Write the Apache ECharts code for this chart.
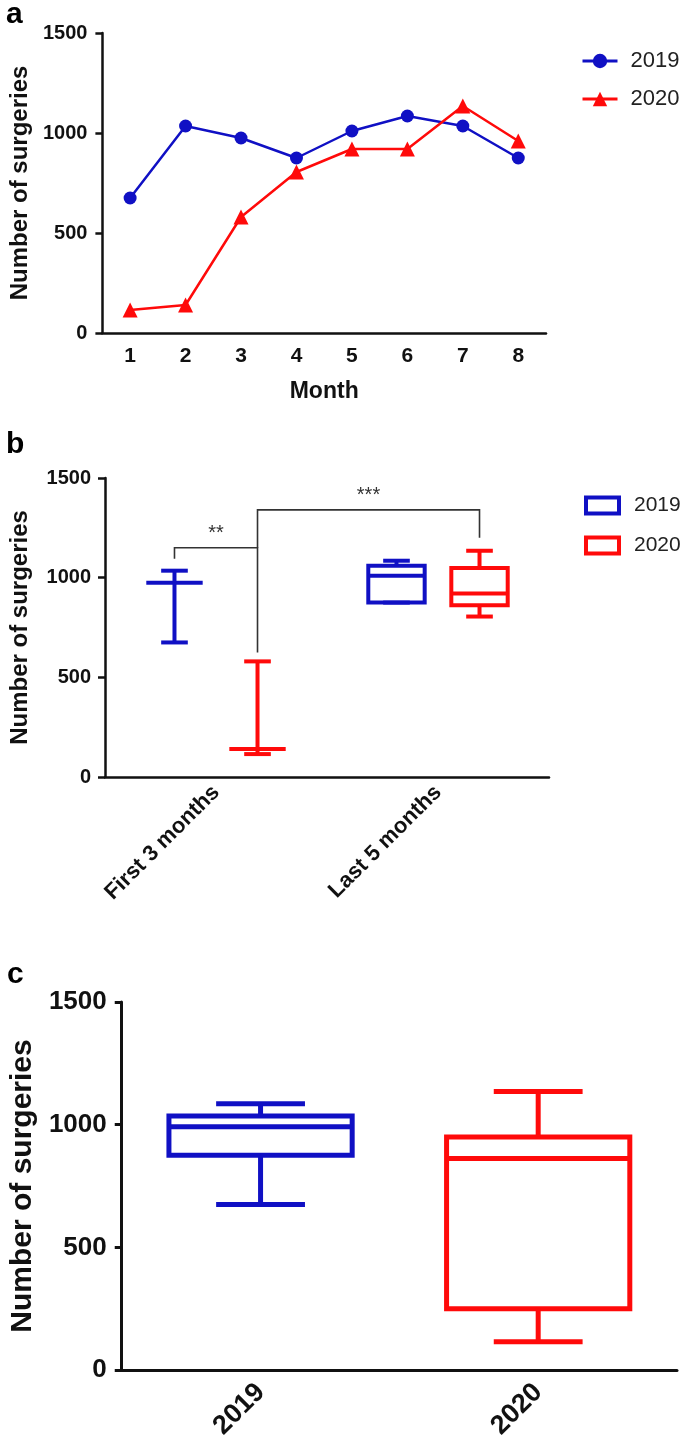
<!DOCTYPE html>
<html>
<head>
<meta charset="utf-8">
<script src="https://cdn.jsdelivr.net/npm/echarts@6/dist/echarts.min.js"></script>
<style>
  html, body { margin: 0; padding: 0; background: #fff; }
  #chart { width: 685px; height: 1454px; }
</style>
</head>
<body>
<div id="chart"></div>
<script>
// ---------- data ----------
const months = ['1', '2', '3', '4', '5', '6', '7', '8'];
const surgeries2019 = [675, 1035, 975, 875, 1010, 1085, 1035, 875];
const surgeries2020 = [115, 140, 580, 805, 920, 920, 1135, 960];

const periodCats = ['First 3 months', 'Last 5 months'];
// box stats: [min, q1, median, q3, max]
const period2019 = [[675, 975, 975, 975, 1035], [875, 875, 1010, 1060, 1085]];
const period2020 = [[115, 140, 140, 140, 580], [805, 862, 920, 1048, 1135]];

const yearCats = ['2019', '2020'];
const yearBoxes = [[675, 875, 992, 1035, 1085], [115, 250, 862, 950, 1135]];

const seriesNames = ['2019', '2020'];
const yMin = 0, yMax = 1500, yStep = 500;

// significance brackets: group 0 = 2019, group 1 = 2020
const sigLabels = ['**', '***'];
const sigFromCat = [0, 0];
const sigFromGroup = [0, 1];
const sigToCat = [0, 1];
const sigToGroup = [1, 1];
const sigTop = [1150, 1340];
const sigFromEnd = [1095, 1150];
const sigToEnd = [625, 1200];

// ---------- styles ----------
const FONT = 'Liberation Sans, Arial, sans-serif';
const BLUE = '#1010C4';
const RED = '#FF0A0A';
const AXIS = '#111';

function boxRender(offsetFrac, boxHalf, capHalf, lw, color) {
  return function (params, api) {
    const cat = api.value(0);
    const band = api.size([1, 0])[0];
    const cx = api.coord([cat, 0])[0] + offsetFrac * band;
    const yv = k => api.coord([cat, api.value(k)])[1];
    const yMn = yv(1), yQ1 = yv(2), yMd = yv(3), yQ3 = yv(4), yMx = yv(5);
    const bw = boxHalf * band, cw = capHalf * band;
    const st = { stroke: color, lineWidth: lw, fill: 'none' };
    const children = [];
    if (yQ1 - yQ3 > 0.5) {
      children.push({ type: 'rect', shape: { x: cx - bw, y: yQ3, width: 2 * bw, height: yQ1 - yQ3 }, style: st });
    }
    children.push(
      { type: 'line', shape: { x1: cx - bw, y1: yMd, x2: cx + bw, y2: yMd }, style: st },
      { type: 'line', shape: { x1: cx, y1: yQ3, x2: cx, y2: yMx }, style: st },
      { type: 'line', shape: { x1: cx, y1: yQ1, x2: cx, y2: yMn }, style: st },
      { type: 'line', shape: { x1: cx - cw, y1: yMx, x2: cx + cw, y2: yMx }, style: st },
      { type: 'line', shape: { x1: cx - cw, y1: yMn, x2: cx + cw, y2: yMn }, style: st }
    );
    return { type: 'group', children };
  };
}

const GROUP_OFF = [-0.187, 0.187];

function bracketRender(params, api) {
  const band = api.size([1, 0])[0];
  const x1 = api.coord([api.value(0), 0])[0] + GROUP_OFF[api.value(1)] * band;
  const x2 = api.coord([api.value(2), 0])[0] + GROUP_OFF[api.value(3)] * band;
  const yT = api.coord([0, api.value(4)])[1];
  const yA = api.coord([0, api.value(5)])[1];
  const yB = api.coord([0, api.value(6)])[1];
  const st = { stroke: '#333', lineWidth: 1.6, fill: 'none' };
  return {
    type: 'group',
    children: [
      { type: 'polyline', shape: { points: [[x1, yA], [x1, yT], [x2, yT], [x2, yB]] }, style: st },
      { type: 'text', x: (x1 + x2) / 2, y: yT - 4,
        style: { text: sigLabels[params.dataIndex], fill: '#333', font: '20px ' + FONT, align: 'center', verticalAlign: 'bottom' } }
    ]
  };
}

function yAxisCfg(gridIndex, fontSize, margin, titleSize, nameGap, lw) {
  return {
    type: 'value', gridIndex, min: yMin, max: yMax, interval: yStep,
    name: 'Number of surgeries', nameLocation: 'middle', nameGap,
    nameTextStyle: { fontFamily: FONT, fontSize: titleSize, fontWeight: 'bold', color: AXIS },
    axisLine: { show: true, lineStyle: { color: AXIS, width: lw } },
    axisTick: { show: true, length: 7, lineStyle: { color: AXIS, width: lw } },
    axisLabel: { fontFamily: FONT, fontSize, fontWeight: 'bold', color: AXIS, margin, formatter: v => String(v) },
    splitLine: { show: false }
  };
}

const chart = echarts.init(document.getElementById('chart'), null, { renderer: 'canvas' });

const bracketData = sigLabels.map((_, i) => [sigFromCat[i], sigFromGroup[i], sigToCat[i], sigToGroup[i], sigTop[i], sigFromEnd[i], sigToEnd[i]]);

chart.setOption({
  animation: false,
  backgroundColor: '#fff',
  textStyle: { fontFamily: FONT },
  grid: [
    { left: 97, top: 33, width: 449, height: 300 },
    { left: 99, top: 478, width: 450, height: 299 },
    { left: 118, top: 1002, width: 559, height: 368 }
  ],
  xAxis: [
    {
      type: 'category', gridIndex: 0, data: months, boundaryGap: true,
      name: 'Month', nameLocation: 'middle', nameGap: 47,
      nameTextStyle: { fontFamily: FONT, fontSize: 23, fontWeight: 'bold', color: AXIS },
      axisLine: { lineStyle: { color: AXIS, width: 2.5 } },
      axisTick: { alignWithLabel: true, length: 7, lineStyle: { color: AXIS, width: 2.5 } },
      axisLabel: { fontFamily: FONT, fontSize: 21, fontWeight: 'bold', color: AXIS, margin: 13 }
    },
    {
      type: 'category', gridIndex: 1, data: periodCats, boundaryGap: true,
      axisLine: { lineStyle: { color: AXIS, width: 2.5 } },
      axisTick: { alignWithLabel: true, length: 7, lineStyle: { color: AXIS, width: 2.5 } },
      axisLabel: { fontFamily: FONT, fontSize: 22, fontWeight: 'bold', color: AXIS, margin: 12, rotate: 45 }
    },
    {
      type: 'category', gridIndex: 2, data: yearCats, boundaryGap: true,
      axisLine: { lineStyle: { color: AXIS, width: 3 } },
      axisTick: { alignWithLabel: true, length: 8, lineStyle: { color: AXIS, width: 3 } },
      axisLabel: { fontFamily: FONT, fontSize: 27, fontWeight: 'bold', color: AXIS, margin: 18, rotate: 45 }
    }
  ],
  yAxis: [
    yAxisCfg(0, 20, 15, 24, 70, 2.5),
    yAxisCfg(1, 20, 14, 24, 73, 2.5),
    yAxisCfg(2, 26, 15, 30, 80, 3)
  ],
  legend: [
    {
      data: seriesNames, orient: 'vertical', left: 576, top: 45,
      itemWidth: 35, itemHeight: 18, itemGap: 16,
      lineStyle: { width: 3 },
      textStyle: { fontFamily: FONT, fontSize: 22, color: '#222', padding: [0, 0, 0, 8] }
    },
    {
      data: [
        { name: seriesNames[0], icon: 'rect', itemStyle: { color: '#fff', borderColor: BLUE, borderWidth: 4 } },
        { name: seriesNames[1], icon: 'rect', itemStyle: { color: '#fff', borderColor: RED, borderWidth: 4 } }
      ],
      orient: 'vertical', left: 579, top: 490,
      itemWidth: 33, itemHeight: 16, itemGap: 19,
      textStyle: { fontFamily: FONT, fontSize: 21, color: '#222', padding: [0, 0, 0, 10] }
    }
  ],
  series: [
    {
      name: seriesNames[0], type: 'line', xAxisIndex: 0, yAxisIndex: 0, data: surgeries2019,
      symbol: 'circle', symbolSize: 13, color: BLUE,
      lineStyle: { width: 2.5, color: BLUE }, itemStyle: { color: BLUE }
    },
    {
      name: seriesNames[1], type: 'line', xAxisIndex: 0, yAxisIndex: 0, data: surgeries2020,
      symbol: 'triangle', symbolSize: 15, color: RED,
      lineStyle: { width: 2.5, color: RED }, itemStyle: { color: RED }
    },
    {
      name: seriesNames[0], type: 'custom', xAxisIndex: 1, yAxisIndex: 1,
      data: period2019.map((s, i) => [i].concat(s)),
      encode: { x: 0, y: [1, 2, 3, 4, 5] },
      renderItem: boxRender(GROUP_OFF[0], 0.127, 0.06, 4, BLUE), itemStyle: { color: BLUE }
    },
    {
      name: seriesNames[1], type: 'custom', xAxisIndex: 1, yAxisIndex: 1,
      data: period2020.map((s, i) => [i].concat(s)),
      encode: { x: 0, y: [1, 2, 3, 4, 5] },
      renderItem: boxRender(GROUP_OFF[1], 0.127, 0.06, 4, RED), itemStyle: { color: RED }
    },
    {
      name: 'sig', type: 'custom', xAxisIndex: 1, yAxisIndex: 1,
      data: bracketData, encode: { x: [0, 2], y: [4, 5, 6] },
      renderItem: bracketRender, silent: true
    },
    {
      name: 'year2019', type: 'custom', xAxisIndex: 2, yAxisIndex: 2,
      data: [[0].concat(yearBoxes[0])], encode: { x: 0, y: [1, 2, 3, 4, 5] },
      renderItem: boxRender(0, 0.33, 0.16, 5, BLUE)
    },
    {
      name: 'year2020', type: 'custom', xAxisIndex: 2, yAxisIndex: 2,
      data: [[1].concat(yearBoxes[1])], encode: { x: 0, y: [1, 2, 3, 4, 5] },
      renderItem: boxRender(0, 0.33, 0.16, 5, RED)
    }
  ],
  graphic: [
    { type: 'text', left: 6, top: 0, style: { text: 'a', font: 'bold 30px ' + FONT, fill: '#000' } },
    { type: 'text', left: 6, top: 430, style: { text: 'b', font: 'bold 30px ' + FONT, fill: '#000' } },
    { type: 'text', left: 7, top: 960, style: { text: 'c', font: 'bold 30px ' + FONT, fill: '#000' } }
  ]
});
</script>
</body>
</html>
